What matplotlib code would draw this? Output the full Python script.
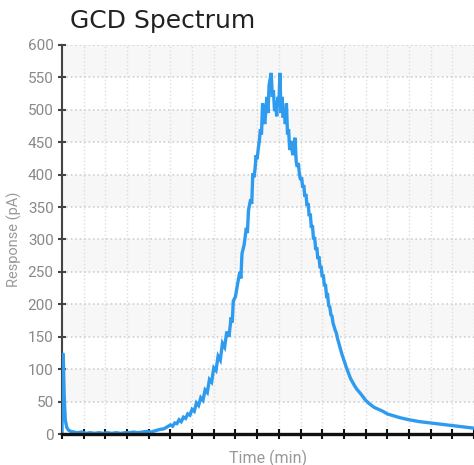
import matplotlib
matplotlib.use("Agg")
import matplotlib.pyplot as plt

# GCD spectrum, values
time_min = [0.00, 0.03, 0.06, 0.10, 0.15, 0.22, 0.30, 0.40, 0.55, 0.70, 0.90,
            1.10, 1.30, 1.50, 1.70, 1.90, 2.10, 2.30, 2.50, 2.70, 2.90, 3.10,
            3.30, 3.50, 3.70, 3.90, 4.10, 4.30, 4.50, 4.70, 4.90,
            5.0, 5.1, 5.2, 5.3, 5.4, 5.5, 5.6, 5.7, 5.8, 5.9, 6.0, 6.1, 6.2,
            6.3, 6.4, 6.5, 6.6, 6.7, 6.8, 6.9, 7.0, 7.1, 7.2, 7.3, 7.4, 7.5,
            7.6, 7.7, 7.8, 7.85, 7.9, 8.0, 8.1, 8.2, 8.25, 8.3, 8.4, 8.5, 8.55,
            8.6, 8.7, 8.75, 8.8, 8.85, 8.9, 8.95, 9.0, 9.05, 9.1, 9.15, 9.2,
            9.25, 9.3, 9.35, 9.4, 9.45, 9.5, 9.55, 9.6, 9.65, 9.7, 9.75, 9.8,
            9.85, 9.9, 9.95, 10.0, 10.05, 10.1, 10.15, 10.2, 10.25, 10.3,
            10.35, 10.4, 10.45, 10.5, 10.55, 10.6, 10.65, 10.7, 10.75, 10.8,
            10.85, 10.9, 10.95, 11.0, 11.05, 11.1, 11.15, 11.2, 11.25, 11.3,
            11.35, 11.4, 11.45, 11.5, 11.55, 11.6, 11.65, 11.7, 11.75, 11.8,
            11.85, 11.9, 11.95, 12.0, 12.05, 12.1, 12.15, 12.2, 12.25, 12.3,
            12.35, 12.4, 12.45, 12.5, 12.6, 12.65, 12.7, 12.8, 12.9, 13.0,
            13.1, 13.2, 13.3, 13.4, 13.5, 13.6, 13.8, 14.0, 14.2, 14.4, 14.6,
            14.8, 15.0, 15.3, 15.6, 16.0, 16.5, 17.0, 17.5, 18.0, 18.5, 19.0]
response_pA = [-2, 125, 118, 60, 22, 10, 6, 4, 3, 2, 3,
               1, 2, 1, 2, 1, 2, 1, 2, 1, 2, 2,
               3, 2, 3, 4, 3, 5, 7, 8, 12,
               14, 12, 17, 16, 22, 19, 26, 24, 31, 29, 38, 35, 48,
               44, 56, 52, 68, 64, 84, 80, 102, 98, 120, 114, 140, 134,
               158, 150, 180, 172, 205, 212, 232, 250, 240, 278, 292, 318, 310,
               345, 362, 355, 402, 396, 408, 430, 424, 440, 452, 470, 462,
               510, 492, 478, 500, 520, 495, 538, 548, 557, 520, 530, 498,
               512, 490, 520, 505, 557, 495, 520, 488, 500, 478,
               510, 462, 470, 438, 452, 440, 430, 448, 457, 420,
               412, 418, 400, 392, 396, 380, 384, 366, 370, 352,
               356, 336, 340, 318, 322, 300, 304, 284, 288, 270,
               274, 256, 259, 242, 246, 228, 231, 213, 214, 198,
               196, 184, 182, 171, 160, 156, 148, 136, 124, 114,
               104, 95, 86, 80, 74, 69, 61, 52, 46, 41, 38,
               35, 31, 28, 25, 22, 19, 17, 15, 13, 11, 9]

y_ticks = list(range(0, 601, 50))
x_ticks = list(range(0, 20))

fig = plt.figure(figsize=(4.74, 4.65), dpi=100)
ax = fig.add_axes([62 / 474, 1 - 434 / 465, 1 - 62 / 474, (434 - 45) / 465])

# alternating light bands
for lo in range(50, 600, 100):
    ax.axhspan(lo, lo + 50, color='#f7f7f7', zorder=0, lw=0)

ax.plot(time_min, response_pA, color='#2e9bef', lw=2.4, zorder=3,
        solid_joinstyle='miter')

ax.set_xlim(0, 19)
ax.set_ylim(0, 600)
ax.set_yticks(y_ticks)
ax.set_xticks(x_ticks)
ax.set_xticklabels([])

ax.grid(axis='y', color='#cfcfcf', linestyle=':', lw=1.2, zorder=1)
ax.grid(axis='x', color='#dddddd', linestyle=':', lw=1.0, zorder=1)

for s in ['top', 'right']:
    ax.spines[s].set_visible(False)
ax.spines['left'].set_color('#444444')
ax.spines['left'].set_linewidth(1.5)
ax.spines['bottom'].set_color('#111111')
ax.spines['bottom'].set_linewidth(2.4)
ax.spines['bottom'].set_zorder(4)

ax.tick_params(axis='y', direction='inout', length=6, width=1.5,
               color='#444444', labelcolor='#888888', labelsize=11, pad=3)
ax.tick_params(axis='x', direction='inout', length=7, width=1.5,
               color='#111111')
for lab in ax.get_yticklabels():
    lab.set_family('Roboto')

ax.set_xlabel('Time (min)', family='Roboto', fontsize=11.5, color='#999999',
              labelpad=4)
ax.set_ylabel('Response (pA)', family='Roboto', fontsize=10.5,
              color='#999999', labelpad=4)

fig.text(70 / 474, 1 - 28 / 465, 'GCD Spectrum', fontsize=18,
         color='#222222', family='DejaVu Sans', va='baseline', ha='left')

fig.savefig('out.png', dpi=100)
